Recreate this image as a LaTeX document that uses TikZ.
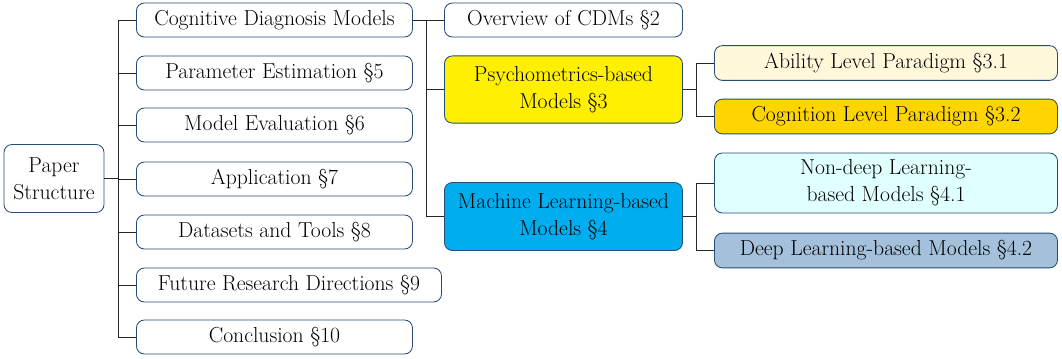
\documentclass[tikz,border=0pt]{standalone}
\usepackage{fontspec}

\definecolor{boxline}{RGB}{38,76,116}
\definecolor{psycol}{RGB}{255,240,0}
\definecolor{ablcol}{RGB}{255,248,218}
\definecolor{cogcol}{RGB}{255,213,0}
\definecolor{mlcol}{RGB}{0,174,239}
\definecolor{ndcol}{RGB}{224,255,255}
\definecolor{dlcol}{RGB}{164,192,218}

\tikzset{
  box/.style={draw=boxline, line width=0.6pt, rounded corners=0.2cm, align=center,
    inner xsep=8pt, inner ysep=2pt, font=\fontsize{15.4}{19}\selectfont},
  lvone/.style={box, anchor=west, minimum width=6.9cm, minimum height=0.85cm},
  lvtwo/.style={box, anchor=west, minimum width=5.95cm, minimum height=0.85cm},
  lvthree/.style={box, anchor=west, minimum width=8.575cm, minimum height=0.87cm},
  link/.style={draw=black!85, line width=0.6pt}
}

\begin{document}
\begin{tikzpicture}[x=0.025cm,y=-0.025cm]
    \useasboundingbox (0,0) rectangle (1062,358);

    \node [box, inner xsep=2pt, minimum width=2.5cm, minimum height=1.7cm] (paper) at (54,178.5) {Paper\\Structure};

    \node [lvone] (cdm) at (136,20) {Cognitive Diagnosis Models};
    \node [lvone] (pe) at (136,73) {Parameter Estimation \S5};
    \node [lvone] (me) at (136,125) {Model Evaluation \S6};
    \node [lvone] (app) at (136,179) {Application \S7};
    \node [lvone] (dt) at (136,232) {Datasets and Tools \S8};
    \node [lvone, minimum width=7.625cm] (frd) at (136,285) {Future Research Directions \S9};
    \node [lvone] (conc) at (136,337) {Conclusion \S10};

    \node [lvtwo] (ov) at (444,20) {Overview of CDMs \S2};
    \node [lvtwo, fill=psycol, minimum height=1.68cm] (psy) at (444,89.5) {Psychometrics-based\\Models \S3};
    \node [lvtwo, fill=mlcol, minimum height=1.7cm] (ml) at (444,216.5) {Machine Learning-based\\Models \S4};

    \node [lvthree, fill=ablcol] (abl) at (714,63) {Ability Level Paradigm \S3.1};
    \node [lvthree, fill=cogcol] (cog) at (714,116.5) {Cognition Level Paradigm \S3.2};
    \node [lvthree, fill=ndcol, minimum height=1.5cm] (nd) at (714,183) {Non-deep Learning-\\based Models \S4.1};
    \node [lvthree, fill=dlcol] (dl) at (714,250.5) {Deep Learning-based Models \S4.2};

    % trunks
    \coordinate (t1) at (118,0);
    \coordinate (t2) at (426,0);
    \coordinate (t3) at (696,0);

    \draw [link] (paper.east) -- (paper.east -| t1);
    \draw [link] (t1 |- cdm.west) -- (t1 |- conc.west);
    \foreach \n in {cdm,pe,me,app,dt,frd,conc}
        \draw [link] (t1 |- \n.west) -- (\n.west);

    \draw [link] (cdm.east) -- (cdm.east -| t2);
    \draw [link] (t2 |- ov.west) -- (t2 |- ml.west);
    \foreach \n in {ov,psy,ml}
        \draw [link] (t2 |- \n.west) -- (\n.west);

    \draw [link] (psy.east) -- (psy.east -| t3);
    \draw [link] (t3 |- abl.west) -- (t3 |- cog.west);
    \draw [link] (ml.east) -- (ml.east -| t3);
    \draw [link] (t3 |- nd.west) -- (t3 |- dl.west);
    \foreach \n in {abl,cog,nd,dl}
        \draw [link] (t3 |- \n.west) -- (\n.west);
\end{tikzpicture}
\end{document}
